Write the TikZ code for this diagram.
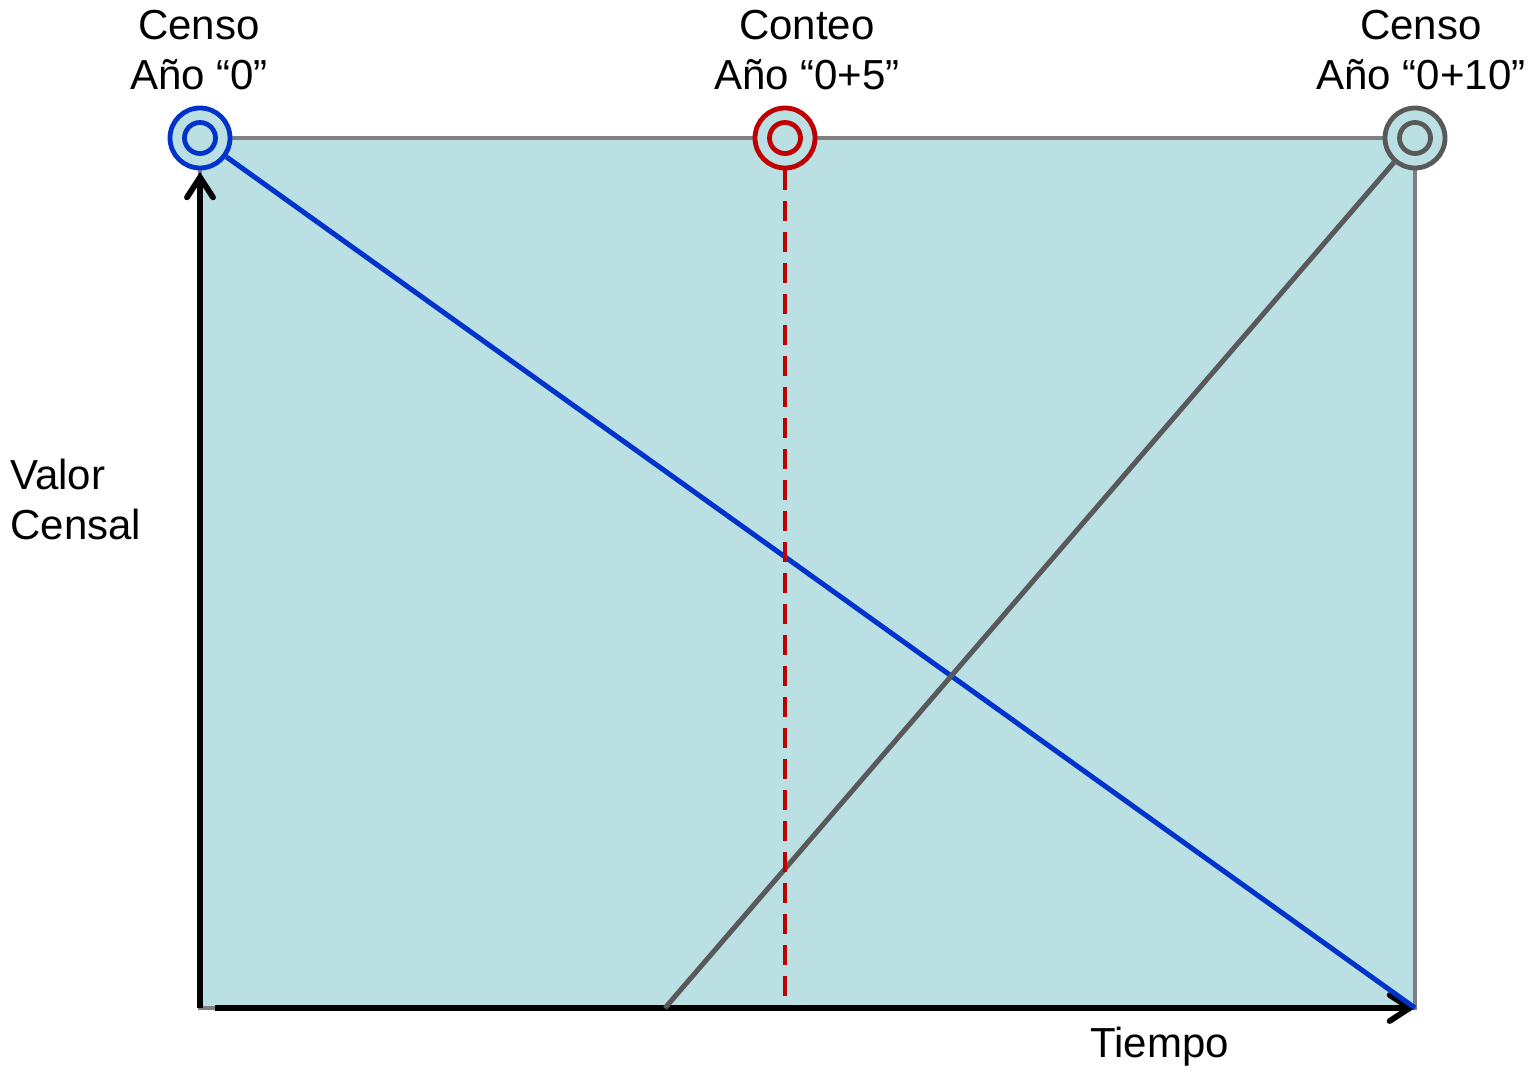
\documentclass[tikz,border=0pt]{standalone}
\usepackage{fontspec}
\setmainfont{Liberation Sans}
\usetikzlibrary{arrows.meta}
\definecolor{bgfill}{HTML}{BBE0E3}
\definecolor{framegray}{HTML}{808080}
\definecolor{cblue}{HTML}{0033CC}
\definecolor{cred}{HTML}{C00000}
\definecolor{cgray}{HTML}{595959}
\begin{document}
\begin{tikzpicture}[x=0.5pt,y=-0.5pt,
  lbl/.style={inner sep=0pt, font=\fontsize{21}{25}\selectfont, align=center},
  outerring/.style={circle, draw=#1, line width=2.4pt, fill=bgfill, minimum size=30pt, inner sep=0pt},
  innerring/.style={circle, draw=#1, line width=2.4pt, minimum size=15.5pt, inner sep=0pt},
  axis/.style={line width=2.9pt, black, -{Straight Barb[length=10pt,width=13pt,line cap=round]}},
]
\useasboundingbox (0,0) rectangle (1537,1070);
% background plot area
\draw[framegray, line width=2.2pt, fill=bgfill] (200,138) rectangle (1415,1008);
% coordinates
\coordinate (origin) at (200,1008);
\coordinate (xstart) at (215,1008);
\coordinate (xend) at (1415,1008);
\coordinate (ytop) at (200,172);
\coordinate (gstart) at (665,1008);
\coordinate (rbottom) at (785,1000);
% axes
\draw[axis] (origin) -- (ytop);
\draw[axis] (xstart) -- (xend);
% circles
\node[outerring=cblue] (c0) at (200,138) {};
\node[innerring=cblue] (c0i) at (200,138) {};
\node[outerring=cred] (c5) at (785,138) {};
\node[innerring=cred] (c5i) at (785,138) {};
\node[outerring=cgray] (c10) at (1415,138) {};
\node[innerring=cgray] (c10i) at (1415,138) {};
% lines
\draw[cblue, line width=2.5pt] (c0) -- (xend);
\draw[cgray, line width=2.5pt] (gstart) -- (c10);
\draw[cred, line width=1.6pt, dash pattern=on 10pt off 5.5pt] (c5) -- (rbottom);
% labels
\node[lbl, anchor=north] (l0) at (199,10) {Censo\\Año “0”};
\node[lbl, anchor=north] (l5) at (807,10) {Conteo\\Año “0+5”};
\node[lbl, anchor=north] (l10) at (1421,10) {Censo\\Año “0+10”};
\node[lbl, anchor=north west, align=left] (lv) at (10,459) {Valor\\Censal};
\node[lbl, anchor=base west] (lt) at (1090,1057) {Tiempo};
\end{tikzpicture}
\end{document}
